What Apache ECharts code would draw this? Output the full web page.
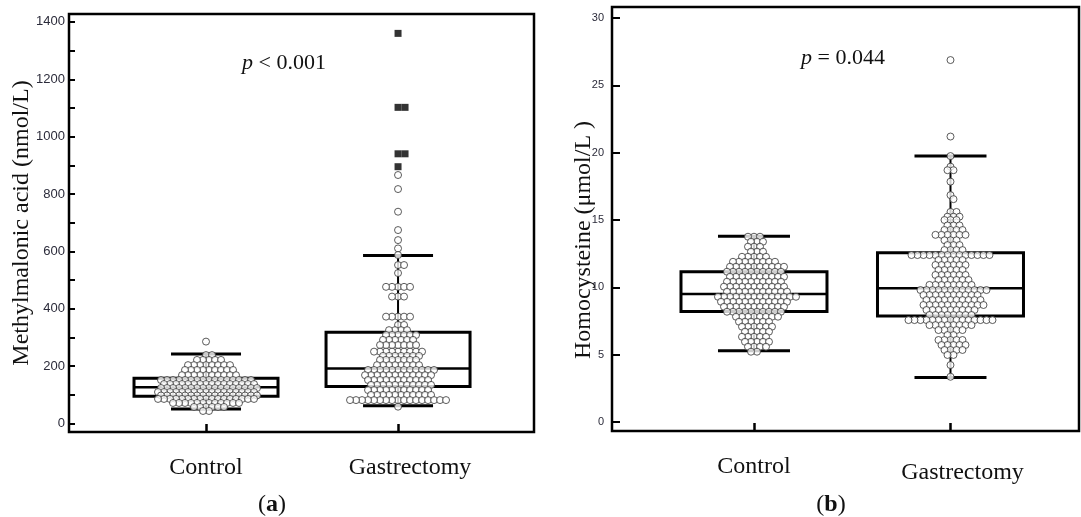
<!DOCTYPE html>
<html><head><meta charset="utf-8">
<script src="https://cdn.jsdelivr.net/npm/echarts@6/dist/echarts.min.js"></script>
<style>html,body{margin:0;padding:0;background:#fff}#c{width:1081px;height:517px}</style>
</head><body><div id="c"></div>
<script>
// ---------- data ----------
const categories = ['Control', 'Gastrectomy'];

// Methylmalonic acid (nmol/L)
const mmaTicks = [0,100,200,300,400,500,600,700,800,900,1000,1100,1200,1300,1400];
const mmaTickLabels = [0,200,400,600,800,1000,1200,1400];
const mmaControlBox = [50, 94, 126, 157, 242];       // min, Q1, median, Q3, max
const mmaGastrectomyBox = [61, 128, 191, 318, 585];
const mmaControl = [
  285, 238, 238,
  221, 221, 221, 221, 221,
  203, 203, 203, 203, 203, 203, 203, 203,
  186, 186, 186, 186, 186, 186, 186, 186, 186,
  168, 168, 168, 168, 168, 168, 168, 168, 168, 168,
  151, 151, 151, 151, 151, 151, 151, 151, 151, 151, 151, 151, 151, 151, 151, 151,
  137, 137, 137, 137, 137, 137, 137, 137, 137, 137, 137, 137, 137, 137, 137, 137,
  123, 123, 123, 123, 123, 123, 123, 123, 123, 123, 123, 123, 123, 123, 123, 123, 123,
  109, 109, 109, 109, 109, 109, 109, 109, 109, 109, 109, 109, 109, 109, 109, 109, 109,
  97, 97, 97, 97, 97, 97, 97, 97, 97, 97, 97, 97, 97, 97, 97, 97, 97,
  85, 85, 85, 85, 85, 85, 85, 85, 85, 85, 85, 85, 85, 85, 85, 85, 85,
  71, 71, 71, 71, 71, 71, 71, 71, 71, 71, 71, 71,
  57, 57, 57, 57, 57, 57,
  43, 43
];
const mmaGastrectomy = [
  866, 817, 738, 674, 639, 610, 587, 552, 552, 524,
  476, 476, 476, 476, 476,
  442, 442, 442,
  372, 372, 372, 372, 372,
  343, 343,
  325, 325, 325, 325,
  308, 308, 308, 308, 308, 308,
  291, 291, 291, 291, 291, 291,
  273, 273, 273, 273, 273, 273, 273,
  250, 250, 250, 250, 250, 250, 250, 250, 250,
  235, 235, 235, 235, 235, 235, 235,
  221, 221, 221, 221, 221, 221, 221,
  203, 203, 203, 203, 203, 203, 203, 203,
  186, 186, 186, 186, 186, 186, 186, 186, 186, 186, 186, 186,
  168, 168, 168, 168, 168, 168, 168, 168, 168, 168, 168, 168,
  151, 151, 151, 151, 151, 151, 151, 151, 151, 151, 151,
  134, 134, 134, 134, 134, 134, 134, 134, 134, 134, 134,
  116, 116, 116, 116, 116, 116, 116, 116, 116, 116, 116,
  99, 99, 99, 99, 99, 99, 99, 99, 99, 99, 99,
  81, 81, 81, 81, 81, 81, 81, 81, 81, 81, 81, 81, 81, 81, 81, 81, 81,
  58
];
const mmaGastrectomyOutliers = [1360, 1102, 1102, 940, 940, 895];

// Homocysteine (umol/L)
const hcyTicks = [0, 5, 10, 15, 20, 25, 30];
const hcyControlBox = [5.3, 8.2, 9.5, 11.15, 13.8];
const hcyGastrectomyBox = [3.3, 7.87, 9.93, 12.57, 19.75];
const hcyControl = [
  13.76, 13.76, 13.76,
  13.39, 13.39, 13.39,
  13.02, 13.02, 13.02,
  12.65, 12.65, 12.65,
  12.27, 12.27, 12.27, 12.27, 12.27,
  11.9, 11.9, 11.9, 11.9, 11.9, 11.9, 11.9, 11.9,
  11.53, 11.53, 11.53, 11.53, 11.53, 11.53, 11.53, 11.53, 11.53, 11.53,
  11.16, 11.16, 11.16, 11.16, 11.16, 11.16, 11.16, 11.16, 11.16, 11.16,
  10.79, 10.79, 10.79, 10.79, 10.79, 10.79, 10.79, 10.79, 10.79, 10.79,
  10.42, 10.42, 10.42, 10.42, 10.42, 10.42, 10.42, 10.42, 10.42, 10.42,
  10.05, 10.05, 10.05, 10.05, 10.05, 10.05, 10.05, 10.05, 10.05, 10.05, 10.05,
  9.68, 9.68, 9.68, 9.68, 9.68, 9.68, 9.68, 9.68, 9.68, 9.68, 9.68,
  9.3, 9.3, 9.3, 9.3, 9.3, 9.3, 9.3, 9.3, 9.3, 9.3, 9.3, 9.3, 9.3, 9.3,
  8.93, 8.93, 8.93, 8.93, 8.93, 8.93, 8.93, 8.93, 8.93, 8.93, 8.93, 8.93,
  8.56, 8.56, 8.56, 8.56, 8.56, 8.56, 8.56, 8.56, 8.56, 8.56, 8.56,
  8.19, 8.19, 8.19, 8.19, 8.19, 8.19, 8.19, 8.19, 8.19, 8.19,
  7.82, 7.82, 7.82, 7.82, 7.82, 7.82, 7.82, 7.82,
  7.45, 7.45, 7.45, 7.45, 7.45, 7.45,
  7.08, 7.08, 7.08, 7.08, 7.08, 7.08,
  6.71, 6.71, 6.71, 6.71, 6.71,
  6.33, 6.33, 6.33, 6.33, 6.33,
  5.96, 5.96, 5.96, 5.96, 5.96,
  5.59, 5.59, 5.59, 5.59,
  5.22, 5.22
];
const hcyGastrectomy = [
  26.88, 21.2, 19.75, 18.96, 18.7, 18.7, 17.85, 16.85, 16.55,
  15.6, 15.6,
  15.25, 15.25, 15.25,
  15.0, 15.0, 15.0,
  14.6, 14.6, 14.6,
  14.26, 14.26, 14.26, 14.26,
  13.9, 13.9, 13.9, 13.9, 13.9, 13.9,
  13.5, 13.5, 13.5,
  13.14, 13.14, 13.14,
  12.77, 12.77, 12.77, 12.77,
  12.4, 12.4, 12.4, 12.4, 12.4, 12.4, 12.4, 12.4, 12.4, 12.4, 12.4, 12.4, 12.4, 12.4,
  12.03, 12.03, 12.03, 12.03, 12.03,
  11.66, 11.66, 11.66, 11.66, 11.66, 11.66,
  11.29, 11.29, 11.29, 11.29, 11.29,
  10.92, 10.92, 10.92, 10.92, 10.92, 10.92,
  10.55, 10.55, 10.55, 10.55, 10.55, 10.55,
  10.18, 10.18, 10.18, 10.18, 10.18, 10.18, 10.18, 10.18,
  9.8, 9.8, 9.8, 9.8, 9.8, 9.8, 9.8, 9.8, 9.8, 9.8, 9.8, 9.8,
  9.43, 9.43, 9.43, 9.43, 9.43, 9.43, 9.43, 9.43, 9.43, 9.43,
  9.06, 9.06, 9.06, 9.06, 9.06, 9.06, 9.06, 9.06, 9.06, 9.06,
  8.69, 8.69, 8.69, 8.69, 8.69, 8.69, 8.69, 8.69, 8.69, 8.69, 8.69,
  8.32, 8.32, 8.32, 8.32, 8.32, 8.32, 8.32, 8.32, 8.32,
  7.95, 7.95, 7.95, 7.95, 7.95, 7.95, 7.95, 7.95,
  7.57, 7.57, 7.57, 7.57, 7.57, 7.57, 7.57, 7.57, 7.57, 7.57, 7.57, 7.57, 7.57, 7.57, 7.57,
  7.2, 7.2, 7.2, 7.2, 7.2, 7.2, 7.2, 7.2,
  6.83, 6.83, 6.83, 6.83, 6.83,
  6.46, 6.46,
  6.09, 6.09, 6.09, 6.09, 6.09,
  5.72, 5.72, 5.72, 5.72, 5.72,
  5.35, 5.35, 5.35, 5.35,
  4.98, 4.98,
  4.23, 3.36
];

// ---------- chart ----------
const SERIF = '"Liberation Serif", "Times New Roman", serif';
const SANS = '"Liberation Sans", Arial, sans-serif';
const chart = echarts.init(document.getElementById('c'), null, {renderer: 'canvas'});

function boxRenderer(halfBox, halfCap) {
  return function (params, api) {
    const x = api.value(0);
    const pMin = api.coord([x, api.value(1)]);
    const pQ1 = api.coord([x, api.value(2)]);
    const pMed = api.coord([x, api.value(3)]);
    const pQ3 = api.coord([x, api.value(4)]);
    const pMax = api.coord([x, api.value(5)]);
    const cx = pMin[0];
    const ls = (w) => ({stroke: '#000', lineWidth: w, fill: null});
    return {
      type: 'group',
      children: [
        {type: 'line', shape: {x1: cx, y1: pMax[1], x2: cx, y2: pQ3[1]}, style: ls(2)},
        {type: 'line', shape: {x1: cx, y1: pQ1[1], x2: cx, y2: pMin[1]}, style: ls(2)},
        {type: 'line', shape: {x1: cx - halfCap, y1: pMax[1], x2: cx + halfCap, y2: pMax[1]}, style: ls(3)},
        {type: 'line', shape: {x1: cx - halfCap, y1: pMin[1], x2: cx + halfCap, y2: pMin[1]}, style: ls(3)},
        {type: 'rect', shape: {x: cx - halfBox, y: pQ3[1], width: 2 * halfBox, height: pQ1[1] - pQ3[1]},
          style: {stroke: '#000', lineWidth: 3, fill: 'none'}},
        {type: 'line', shape: {x1: cx - halfBox, y1: pMed[1], x2: cx + halfBox, y2: pMed[1]}, style: ls(2.5)}
      ]
    };
  };
}

function catAxis(gridIndex, min, max, gPad) {
  return {
    type: 'value', gridIndex, min, max, position: 'bottom',
    axisLine: {show: false, onZero: false}, splitLine: {show: false},
    axisTick: {show: true, inside: true, length: 8, customValues: [1, 2], lineStyle: {color: '#000', width: 2.5}},
    axisLabel: {
      show: true, customValues: [1, 2], margin: 24,
      formatter: (v) => v === 1 ? '{c|' + categories[0] + '}' : '{g|' + categories[1] + '}',
      rich: {
        c: {fontFamily: SERIF, fontSize: 24, color: '#111'},
        g: {fontFamily: SERIF, fontSize: 24, color: '#111', padding: gPad}
      }
    }
  };
}

const circleStyle = {color: '#fff', borderColor: '#333', borderWidth: 1};
const plain = (v) => String(v);

const option = {
  animation: false,
  backgroundColor: '#fff',
  grid: [
    {left: 69, top: 14, width: 465, height: 418, show: true, borderColor: '#000', borderWidth: 2.5, backgroundColor: 'transparent', outerBoundsMode: 'none'},
    {left: 612, top: 7, width: 467, height: 424, show: true, borderColor: '#000', borderWidth: 2.5, backgroundColor: 'transparent', outerBoundsMode: 'none'}
  ],
  xAxis: [
    catAxis(0, 0.2865, 2.708, [0, 0, 0, 24]),
    catAxis(1, 0.2774, 2.654, [6, 0, 0, 24])
  ],
  yAxis: [
    {
      type: 'value', gridIndex: 0, min: -30.3, max: 1427.6,
      name: 'Methylmalonic acid (nmol/L)', nameLocation: 'middle', nameGap: 35, nameMoveOverlap: false,
      nameTextStyle: {fontFamily: SERIF, fontSize: 24, color: '#111'},
      axisLine: {show: false, onZero: false}, splitLine: {show: false},
      axisTick: {show: true, inside: true, length: 6, customValues: mmaTicks, lineStyle: {color: '#000', width: 2}},
      axisLabel: {show: true, customValues: mmaTickLabels, formatter: plain, margin: 4, fontFamily: SANS, fontSize: 13, color: '#2b2b3a'}
    },
    {
      type: 'value', gridIndex: 1, min: -0.668, max: 30.82,
      name: 'Homocysteine (μmol/L )', nameLocation: 'middle', nameGap: 16, nameMoveOverlap: false,
      nameTextStyle: {fontFamily: SERIF, fontSize: 24, color: '#111', padding: [0, 42, 0, 0]},
      axisLine: {show: false, onZero: false}, splitLine: {show: false},
      axisTick: {show: true, inside: true, length: 8, customValues: hcyTicks, lineStyle: {color: '#000', width: 2}},
      axisLabel: {show: true, customValues: hcyTicks, formatter: plain, margin: 8, fontFamily: SANS, fontSize: 11, color: '#2b2b3a'}
    }
  ],
  graphic: [
    {type: 'text', x: 284, y: 63, style: {text: '{i|p}{n| < 0.001}', align: 'center', verticalAlign: 'middle',
      rich: {i: {fontFamily: SERIF, fontSize: 22, fontStyle: 'italic', fill: '#111'}, n: {fontFamily: SERIF, fontSize: 22, fill: '#111'}}}},
    {type: 'text', x: 843, y: 58, style: {text: '{i|p}{n| = 0.044}', align: 'center', verticalAlign: 'middle',
      rich: {i: {fontFamily: SERIF, fontSize: 22, fontStyle: 'italic', fill: '#111'}, n: {fontFamily: SERIF, fontSize: 22, fill: '#111'}}}},
    {type: 'text', x: 272, y: 505, style: {text: '{n|(}{b|a}{n|)}', align: 'center', verticalAlign: 'middle',
      rich: {n: {fontFamily: SERIF, fontSize: 24, fill: '#111'}, b: {fontFamily: SERIF, fontSize: 24, fontWeight: 'bold', fill: '#111'}}}},
    {type: 'text', x: 831, y: 505, style: {text: '{n|(}{b|b}{n|)}', align: 'center', verticalAlign: 'middle',
      rich: {n: {fontFamily: SERIF, fontSize: 24, fill: '#111'}, b: {fontFamily: SERIF, fontSize: 24, fontWeight: 'bold', fill: '#111'}}}}
  ],
  series: [
    {id: 'boxA', type: 'custom', xAxisIndex: 0, yAxisIndex: 0, renderItem: boxRenderer(72, 35), z: 1,
      data: [[1].concat(mmaControlBox), [2].concat(mmaGastrectomyBox)]},
    {id: 'boxB', type: 'custom', xAxisIndex: 1, yAxisIndex: 1, renderItem: boxRenderer(73, 36), z: 1,
      data: [[1].concat(hcyControlBox), [2].concat(hcyGastrectomyBox)]},
    {id: 'aC', type: 'scatter', xAxisIndex: 0, yAxisIndex: 0, symbol: 'circle', symbolSize: 7, itemStyle: circleStyle, z: 3, data: []},
    {id: 'aG', type: 'scatter', xAxisIndex: 0, yAxisIndex: 0, symbol: 'circle', symbolSize: 7, itemStyle: circleStyle, z: 3, data: []},
    {id: 'aO', type: 'scatter', xAxisIndex: 0, yAxisIndex: 0, symbol: 'rect', symbolSize: 7, itemStyle: {color: '#000'}, z: 3, data: []},
    {id: 'bC', type: 'scatter', xAxisIndex: 1, yAxisIndex: 1, symbol: 'circle', symbolSize: 7, itemStyle: circleStyle, z: 3, data: []},
    {id: 'bG', type: 'scatter', xAxisIndex: 1, yAxisIndex: 1, symbol: 'circle', symbolSize: 7, itemStyle: circleStyle, z: 3, data: []}
  ]
};
chart.setOption(option);

// hex-row beeswarm: same row needs a full step, neighbouring rows a half step.
// Positions are derived from the chart's own axis scales.
function swarm(values, gridIndex, cx, s, near) {
  const x0 = chart.convertToPixel({gridIndex}, [cx, 0])[0];
  const x1 = chart.convertToPixel({gridIndex}, [cx + 1, 0])[0];
  const kx = x1 - x0;
  const items = values.map(v => ({v, y: chart.convertToPixel({gridIndex}, [cx, v])[1]}));
  items.sort((a, b) => a.y - b.y);
  const placed = [];
  const out = [];
  for (const it of items) {
    let best = 0;
    for (let k = 0; k < 2000; k++) {
      const step = Math.ceil(k / 2) * 0.5;
      const dx = (k % 2 === 1) ? step : -step;
      let ok = true;
      for (const p of placed) {
        const dy = Math.abs(p.y - it.y);
        if (dy >= near) continue;
        const need = dy < 1 ? s : s / 2;
        if (Math.abs(p.dx - dx) < need - 1e-6) { ok = false; break; }
      }
      if (ok) { best = dx; break; }
    }
    placed.push({y: it.y, dx: best});
    out.push([cx + best / kx, it.v]);
  }
  return out;
}

chart.setOption({
  series: [
    {id: 'aC', data: swarm(mmaControl, 0, 1, 6, 6.5)},
    {id: 'aG', data: swarm(mmaGastrectomy, 0, 2, 6, 6.5)},
    {id: 'aO', data: swarm(mmaGastrectomyOutliers, 0, 2, 7, 6.5)},
    {id: 'bC', data: swarm(hcyControl, 1, 1, 6, 6.5)},
    {id: 'bG', data: swarm(hcyGastrectomy, 1, 2, 6, 6.5)}
  ]
});
</script>
</body></html>
